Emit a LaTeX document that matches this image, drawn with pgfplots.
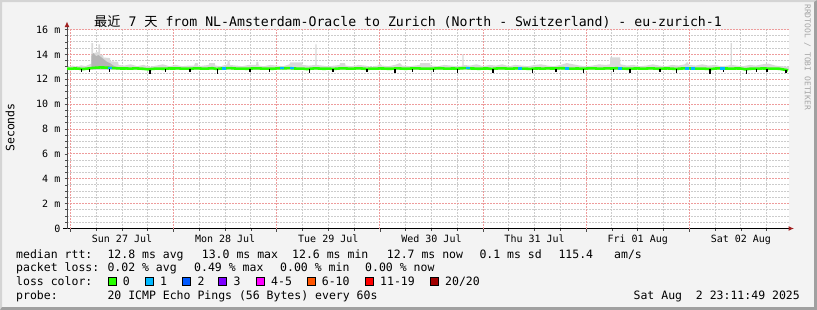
\documentclass[border=0pt]{standalone}
\usepackage{fontspec}
\usepackage{pgfplots}
\usepackage{pgfplotstable}
\pgfplotsset{compat=1.18}
\usetikzlibrary{arrows.meta}
\setmainfont{DejaVu Sans Mono}
\newfontfamily\cjk{Noto Sans CJK SC}
\definecolor{bg}{HTML}{F3F3F3}
\definecolor{shadea}{HTML}{D4D4D4}
\definecolor{shadeb}{HTML}{A0A0A0}
\definecolor{mgrid}{HTML}{EE9C9C}
\definecolor{mingrid}{HTML}{CCCCCC}
\definecolor{smokeA}{HTML}{D9D9D9}
\definecolor{smokeB}{HTML}{B4B4B4}
\definecolor{arrowred}{HTML}{A02020}
\definecolor{lcA}{HTML}{26FF00}
\definecolor{lcB}{HTML}{00B8FF}
\definecolor{lcC}{HTML}{0059FF}
\definecolor{lcD}{HTML}{7E00FF}
\definecolor{lcE}{HTML}{FF00FF}
\definecolor{lcF}{HTML}{FF5500}
\definecolor{lcG}{HTML}{FF0000}
\definecolor{lcH}{HTML}{A10000}
\newcommand{\lgf}{\fontsize{11.5bp}{13bp}\selectfont}
\newcommand{\tk}[3]{\node[anchor=base west,inner sep=0pt,font=\lgf] at (#1bp,-#2bp) {#3};}
\newcommand{\sq}[2]{\filldraw[fill=#2,draw=black,line width=0.9bp] (#1bp,-277.8bp) rectangle ++(7.5bp,-7.5bp);}

\pgfplotstableread{
h m
-1 12.86
0 12.84
1 12.87
2 12.85
3 12.82
4 12.86
5 12.90
6 12.93
7 12.95
8 12.94
9 12.92
10 12.90
11 12.88
12 12.86
13 12.87
14 12.85
15 12.88
16 12.86
17 12.84
18 12.80
19 12.83
20 12.86
21 12.85
22 12.84
23 12.87
24 12.86
25 12.88
26 12.85
27 12.86
28 12.84
29 12.88
30 12.87
31 12.85
32 12.86
33 12.89
34 12.83
35 12.86
36 12.88
37 12.90
38 12.87
39 12.85
40 12.86
41 12.84
42 12.86
43 12.88
44 12.87
45 12.85
46 12.86
47 12.84
48 12.87
49 12.89
50 12.88
51 12.90
52 12.87
53 12.85
54 12.86
55 12.82
56 12.85
57 12.88
58 12.86
59 12.84
60 12.86
61 12.83
62 12.85
63 12.88
64 12.87
65 12.85
66 12.86
67 12.88
68 12.86
69 12.83
70 12.86
71 12.85
72 12.87
73 12.86
74 12.84
75 12.85
76 12.88
77 12.86
78 12.84
79 12.86
80 12.88
81 12.87
82 12.85
83 12.86
84 12.84
85 12.87
86 12.89
87 12.86
88 12.85
89 12.87
90 12.85
91 12.88
92 12.90
93 12.87
94 12.86
95 12.84
96 12.86
97 12.87
98 12.83
99 12.86
100 12.88
101 12.87
102 12.85
103 12.86
104 12.88
105 12.86
106 12.85
107 12.83
108 12.86
109 12.87
110 12.85
111 12.88
112 12.86
113 12.87
114 12.89
115 12.88
116 12.86
117 12.85
118 12.87
119 12.84
120 12.86
121 12.88
122 12.87
123 12.85
124 12.86
125 12.88
126 12.86
127 12.89
128 12.87
129 12.85
130 12.84
131 12.86
132 12.87
133 12.85
134 12.86
135 12.88
136 12.86
137 12.84
138 12.86
139 12.87
140 12.85
141 12.83
142 12.86
143 12.88
144 12.87
145 12.86
146 12.85
147 12.86
148 12.84
149 12.82
150 12.86
151 12.88
152 12.87
153 12.86
154 12.85
155 12.87
156 12.86
157 12.80
158 12.84
159 12.86
160 12.85
161 12.87
162 12.86
163 12.85
164 12.86
165 12.84
166 12.78
167 12.72
}\med

\pgfplotstableread{
h y e
2.5 12.82 0.26
4.5 12.82 0.22
9.0 12.88 0.30
18.5 12.77 0.34
22.2 12.81 0.22
27.8 12.81 0.26
34.3 12.80 0.36
41.8 12.81 0.24
46.4 12.82 0.22
55.7 12.79 0.30
61.1 12.80 0.24
69.0 12.79 0.24
75.5 12.82 0.30
79.5 12.82 0.22
84.4 12.81 0.26
90.0 12.81 0.28
98.3 12.80 0.32
107.6 12.80 0.28
113.0 12.83 0.22
119.3 12.81 0.28
126.3 12.82 0.24
130.2 12.81 0.28
137.2 12.81 0.24
141.1 12.80 0.30
148.8 12.79 0.34
152.0 12.83 0.22
157.4 12.77 0.38
159.7 12.81 0.26
162.1 12.82 0.24
166.5 12.72 0.24
}\dips

\begin{document}
\begin{tikzpicture}
\path[use as bounding box] (0,0) rectangle (817bp,-310bp);
\fill[bg] (0,0) rectangle (817bp,-310bp);
\fill[shadea] (0,0) -- (817bp,0) -- (815bp,-2bp) -- (2bp,-2bp) -- (2bp,-308bp) -- (0,-310bp) -- cycle;
\fill[shadeb] (817bp,0) -- (817bp,-310bp) -- (0,-310bp) -- (2bp,-307bp) -- (814bp,-307bp) -- (814bp,-2bp) -- cycle;

\begin{axis}[
  at={(67bp,-228.5bp)}, anchor=south west,
  scale only axis, width=722bp, height=199bp,
  xmin=-0.8, xmax=167.2, ymin=0, ymax=16,
  axis background/.style={fill=white},
  axis lines=left,
  every outer x axis line/.append style={-{Latex[length=5.5bp,width=5bp,color=arrowred]}, shorten >=-5bp, shorten <=-4bp, line width=1bp, black},
  every outer y axis line/.append style={-{Latex[length=5.5bp,width=5bp,color=arrowred]}, shorten >=-8bp, line width=1bp, black!70},
  xtick={12,36,60,84,108,132,156},
  xticklabels={Sun 27 Jul,Mon 28 Jul,Tue 29 Jul,Wed 30 Jul,Thu 31 Jul,Fri 01 Aug,Sat 02 Aug},
  minor xtick={6,12,18,30,36,42,54,60,66,78,84,90,102,108,114,126,132,138,150,156,162},
  extra x ticks={0,24,48,72,96,120,144},
  extra x tick labels={},
  extra x tick style={xmajorgrids=true, major tick length=3bp},
  ytick={0,2,4,6,8,10,12,14,16},
  yticklabels={0,2 m,4 m,6 m,8 m,10 m,12 m,14 m,16 m},
  minor y tick num=3,
  xmajorgrids=false, xminorgrids=true, ymajorgrids=true, yminorgrids=true,
  major grid style={mgrid, line width=1bp, dash pattern=on 1.6bp off 1.4bp},
  minor grid style={mingrid, line width=1bp, dash pattern=on 1.6bp off 1.4bp},
  tick align=outside,
  major tick length=2.5bp, minor tick length=2bp,
  tick style={black!70, line width=0.7bp},
  tick label style={font=\fontsize{10bp}{12bp}\selectfont, inner sep=0pt},
  yticklabel style={anchor=east, xshift=-4bp},
  xticklabel style={anchor=base, yshift=-11bp},
  clip=true,
]
% smoke (light)
\addplot[fill=smokeA, draw=none, forget plot] coordinates {
(-0.8,12.95) (0.5,13.1) (1.5,13.0) (2.5,13.12) (3.5,13.05) (4.5,13.2)
(4.9,13.25) (4.9,14.9) (5.3,14.9) (5.3,14.1) (6.5,14.2) (6.5,14.8) (6.9,14.8) (6.9,14.0) (7.6,13.95) (7.7,13.75) (9.2,13.7) (9.3,13.45) (11.1,13.4) (11.2,13.15)
(12.5,13.1) (14,13.2) (15.5,13.05) (17,13.15) (18.5,13.0) (20,13.1) (21.5,13.2) (23,13.05) (24.5,13.15) (26,13.05) (27.5,13.1)
(28.8,13.1) (29,13.3) (29.6,13.3) (29.8,13.05) (31,13.1) (32.2,13.15) (32.3,13.3) (33.6,13.3) (33.7,13.1) (35,13.05) (36.5,13.2) (36.6,13.5) (37.0,13.5) (37.1,13.15) (38.5,13.1) (40,13.05) (41.5,13.15) (43.2,13.15) (43.3,13.4) (43.7,13.4) (43.8,13.1) (45,13.05) (46.5,13.15) (48,13.1) (49.5,13.05) (51,13.2) (51.1,13.35) (53.9,13.35) (54,13.15) (55.5,13.1) (57.0,13.15) (57.0,14.8) (57.3,14.8) (57.3,13.15) (58.5,13.1) (60,13.05) (61.5,13.1) (62.7,13.15) (62.7,13.3) (63.9,13.3) (64,13.1) (65.5,13.05) (67,13.15) (68.5,13.1) (70,13.0) (71.5,13.1) (72,13.25) (72.5,13.1) (74,13.05) (75.5,13.15) (76.7,13.3) (77.2,13.1) (79,13.05) (81.3,13.15) (81.4,13.3) (83.7,13.3) (83.8,13.1) (85.5,13.05) (87,13.15) (88.5,13.1) (90,13.05) (91.2,13.1) (91.2,14.0) (91.5,14.0) (91.5,13.15) (93,13.1) (94.5,13.2) (96,13.05) (97.5,13.15) (99,13.1) (100.5,13.2) (102,13.05) (103.5,13.15) (105,13.1) (106.5,13.05) (108,13.15) (109.5,13.2) (111,13.1) (112.5,13.05) (114,13.15) (115.5,13.3) (117,13.2) (118.5,13.1) (120,13.05) (121.5,13.1) (123,13.2) (124.5,13.15) (125.6,13.2) (125.6,13.75) (127.9,13.75) (128,13.2) (129.5,13.1) (131,13.15) (132.5,13.05) (134,13.1) (135.5,13.2) (137,13.1) (138.5,13.05) (140,13.15) (141.5,13.1) (143,13.2) (143.5,13.4) (144,13.15) (145.5,13.1) (147,13.2) (148.5,13.1) (150,13.15) (151.5,13.05) (153,13.1) (153.6,13.15) (153.6,14.9) (153.9,14.9) (153.9,13.15) (155,13.1) (156.5,13.05) (158,13.15) (159.5,13.1) (161,13.2) (162.5,13.25) (164,13.1) (165.5,13.05) (167.2,13.0) (167.2,12.75) (-0.8,12.75)
} -- cycle;
% smoke (dark)
\addplot[fill=smokeB, draw=none, forget plot] coordinates {
(4.9,12.9) (4.9,13.9) (5.3,14.1) (6.0,13.85) (6.5,13.95) (7.6,13.65) (8.5,13.4) (9.2,13.3) (10,13.1) (11,12.95) (11,12.9)
} -- cycle;
% median
\addplot[lcA, line width=2.6bp, mark=none, forget plot] table[x=h, y=m] {\med};
% loss 1
\addplot[only marks, mark=-, mark size=2.2bp, mark options={line width=2.6bp, draw=lcB}, forget plot] coordinates {
(9.2,12.92) (35.8,12.87) (49.2,12.89) (51.5,12.89) (92.5,12.89) (104.6,12.87) (115.6,12.88) (127.9,12.88) (143.5,12.88) (144.9,12.87) (151.7,12.88)
};
% dips
\addplot[draw=none, mark=none, forget plot, error bars/.cd, y dir=minus, y explicit, error mark=none, error bar style={draw=black, line width=1.2bp, solid}] table[x=h, y=y, y error=e] {\dips};
\end{axis}

% title
\node[anchor=base, inner sep=0pt, font=\fontsize{13.2bp}{15bp}\selectfont] at (408bp,-26bp) {{\cjk 最近} 7 {\cjk 天} from NL-Amsterdam-Oracle to Zurich (North - Switzerland) - eu-zurich-1};
% y label
\node[rotate=90, inner sep=0pt, font=\lgf] at (10bp,-127.5bp) {Seconds};
% watermark
\node[rotate=-90, anchor=west, inner sep=0pt, text=black!35, font=\fontsize{8bp}{9bp}\selectfont] at (807.5bp,-4bp) {RRDTOOL / TOBI OETIKER};

% legend line 1
\tk{16}{258}{median rtt:}
\tk{107.3}{258}{12.8 ms avg}
\tk{201.7}{258}{13.0 ms max}
\tk{292}{258}{12.6 ms min}
\tk{386.7}{258}{12.7 ms now}
\tk{479.3}{258}{0.1 ms sd}
\tk{558.3}{258}{115.4}\tk{614}{258}{am/s}
% legend line 2
\tk{16}{271.7}{packet loss:}
\tk{107.3}{271.7}{0.02 \% avg}
\tk{194}{271.7}{0.49 \% max}
\tk{280}{271.7}{0.00 \% min}
\tk{365}{271.7}{0.00 \% now}
% legend line 3
\tk{16}{285.3}{loss color:}
\sq{108.5}{lcA}\tk{122.7}{285.3}{0}
\sq{145.7}{lcB}\tk{160}{285.3}{1}
\sq{182.7}{lcC}\tk{197.3}{285.3}{2}
\sq{218.7}{lcD}\tk{233.3}{285.3}{3}
\sq{256.7}{lcE}\tk{271}{285.3}{4-5}
\sq{307.5}{lcF}\tk{321.7}{285.3}{6-10}
\sq{365.8}{lcG}\tk{380}{285.3}{11-19}
\sq{430.7}{lcH}\tk{445}{285.3}{20/20}
% legend line 4
\tk{16}{299}{probe:}
\tk{107.3}{299}{20 ICMP Echo Pings (56 Bytes) every 60s}
\node[anchor=base east, inner sep=0pt, font=\lgf] at (800bp,-299bp) {Sat Aug~~2 23:11:49 2025};
\end{tikzpicture}
\end{document}
